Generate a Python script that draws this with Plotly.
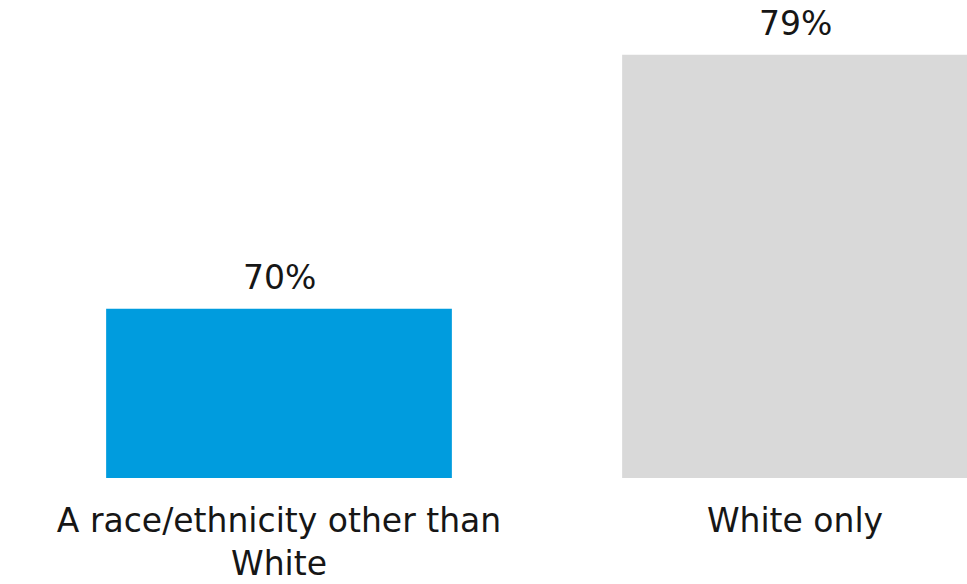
import plotly.graph_objects as go

# Share of respondents by race/ethnicity group
categories = ["A race/ethnicity other than<br>White", "White only"]
values = [70, 79]
value_labels = ["70%", "79%"]
bar_colors = ["#009CDE", "#D9D9D9"]

FONT = "DejaVu Sans"
TEXT_COLOR = "#161616"
FONT_SIZE = 33
FONT_WEIGHT = 400

fig = go.Figure(
    go.Bar(
        x=categories,
        y=values,
        marker=dict(color=bar_colors, line=dict(width=0)),
        width=0.67,
        hoverinfo="skip",
    )
)

# value labels above each bar
for cat, val, lab in zip(categories, values, value_labels):
    fig.add_annotation(
        x=cat, y=val, text=lab, showarrow=False,
        yanchor="bottom", yshift=10,
        font=dict(family=FONT, size=FONT_SIZE, color=TEXT_COLOR, weight=FONT_WEIGHT),
    )

fig.update_layout(
    width=967,
    height=584,
    margin=dict(l=0, r=0, t=0, b=106, autoexpand=False),
    paper_bgcolor="white",
    plot_bgcolor="white",
    showlegend=False,
    font=dict(family=FONT, color=TEXT_COLOR),
)

fig.update_xaxes(
    type="category",
    range=[-0.5407, 1.3333],
    automargin=False,
    showgrid=False,
    showline=False,
    zeroline=False,
    ticks="",
    tickfont=dict(family=FONT, size=FONT_SIZE, color=TEXT_COLOR, weight=FONT_WEIGHT),
    ticklabelstandoff=20,
)

fig.update_yaxes(
    range=[64, 80.94],
    automargin=False,
    visible=False,
    showgrid=False,
    zeroline=False,
)

fig.write_html("out.html")
